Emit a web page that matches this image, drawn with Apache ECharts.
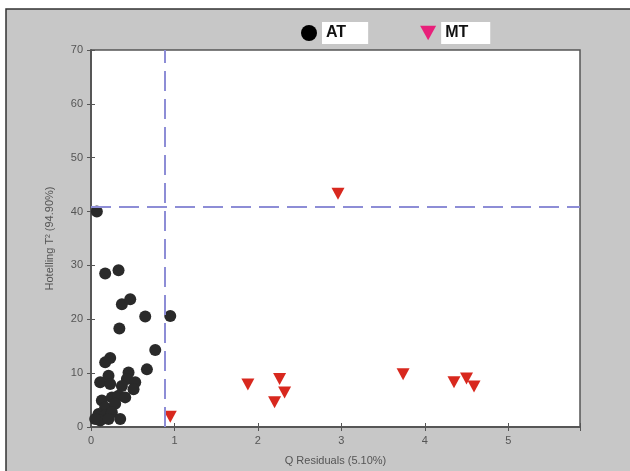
<!DOCTYPE html>
<html>
<head>
<meta charset="utf-8">
<script src="https://cdn.jsdelivr.net/npm/echarts@6/dist/echarts.min.js"></script>
<style>
  html, body { margin: 0; padding: 0; background: #fff; }
  #chart { width: 630px; height: 471px; }
</style>
</head>
<body>
<div id="chart"></div>
<script>
// AT 样本 (Q residual, Hotelling T2)
var atQ = [0.07, 0.17, 0.33, 0.37, 0.47, 0.34, 0.65, 0.95, 0.77, 0.67,
  0.23, 0.17, 0.45, 0.21, 0.11, 0.43, 0.53, 0.37, 0.51, 0.23,
  0.13, 0.25, 0.33, 0.41, 0.17, 0.29, 0.09, 0.17, 0.25, 0.11,
  0.35, 0.21, 0.05];
var atT2 = [40.0, 28.5, 29.1, 22.8, 23.7, 18.3, 20.5, 20.6, 14.3, 10.7,
  12.8, 12.0, 10.1, 9.5, 8.3, 8.9, 8.3, 7.6, 7.0, 8.0,
  4.9, 5.5, 5.8, 5.5, 3.6, 4.3, 2.4, 2.1, 2.7, 1.2,
  1.5, 1.5, 1.5];
// MT 样本
var mtQ = [2.96, 0.95, 1.88, 2.2, 2.26, 2.32, 3.74, 4.35, 4.5, 4.59];
var mtT2 = [43.3, 1.9, 7.9, 4.6, 8.9, 6.4, 9.8, 8.3, 9.0, 7.5];
// 控制限
var qLimit = 0.875;
var t2Limit = 40.9;
var xTicks = [0, 1, 2, 3, 4, 5];
var yTicks = [0, 10, 20, 30, 40, 50, 60, 70];

var triDown = 'path://M0,0 L10,0 L5,9 Z';

function pairs(xs, ys) {
  return xs.map(function (x, i) { return [x, ys[i]]; });
}

var chart = echarts.init(document.getElementById('chart'), null, { renderer: 'canvas' });

var axisCommon = {
  axisLine: { lineStyle: { color: '#555', width: 1.5 } },
  axisTick: { inside: true, length: 4, lineStyle: { color: '#555' } },
  splitLine: { show: false },
  axisLabel: { color: '#555', fontSize: 11, fontFamily: 'Liberation Sans' }
};

var option = {
  animation: false,
  backgroundColor: '#fff',
  graphic: [{
    type: 'rect',
    z: -10,
    shape: { x: 6, y: 9, width: 640, height: 480 },
    style: { fill: '#c7c7c7', stroke: '#333', lineWidth: 1.5 }
  }],
  grid: {
    left: 91, right: 50, top: 50, bottom: 43,
    show: true,
    backgroundColor: '#fff',
    borderColor: '#555',
    borderWidth: 1.5
  },
  legend: {
    top: 17,
    left: 296,
    itemGap: 52,
    itemWidth: 16,
    itemHeight: 16,
    textStyle: {
      color: '#111',
      fontSize: 16,
      fontWeight: 'bold',
      fontFamily: 'Liberation Sans',
      backgroundColor: '#fff',
      padding: [3, 22, 3, 4]
    },
    data: [
      { name: 'AT', icon: 'circle', itemStyle: { color: '#000' } },
      { name: 'MT', icon: triDown, itemStyle: { color: '#e8207a' } }
    ]
  },
  xAxis: [
    Object.assign({}, axisCommon, {
      type: 'value',
      min: 0, max: 5.86, interval: 1,
      name: 'Q Residuals (5.10%)',
      nameLocation: 'middle',
      nameGap: 28,
      nameTextStyle: { color: '#555', fontSize: 11, fontFamily: 'Liberation Sans' },
      axisLabel: Object.assign({}, axisCommon.axisLabel, {
        formatter: function (v) { return xTicks.indexOf(v) >= 0 ? String(v) : ''; }
      })
    }),
    Object.assign({}, axisCommon, {
      type: 'value', position: 'top',
      min: 0, max: 5.86, interval: 1,
      axisLabel: { show: false }
    })
  ],
  yAxis: [
    Object.assign({}, axisCommon, {
      type: 'value',
      min: 0, max: 70, interval: 10,
      name: 'Hotelling T\u00b2 (94.90%)',
      nameLocation: 'middle',
      nameGap: 36,
      nameTextStyle: { color: '#555', fontSize: 11, fontFamily: 'Liberation Sans' },
      axisLabel: Object.assign({}, axisCommon.axisLabel, {
        formatter: function (v) { return yTicks.indexOf(v) >= 0 ? String(v) : ''; }
      })
    }),
    Object.assign({}, axisCommon, {
      type: 'value', position: 'right',
      min: 0, max: 70, interval: 10,
      axisLabel: { show: false }
    })
  ],
  series: [
    {
      name: 'AT',
      type: 'scatter',
      symbol: 'circle',
      symbolSize: 12,
      itemStyle: { color: '#2a2a2a', opacity: 1 },
      data: pairs(atQ, atT2),
      markLine: {
        silent: true,
        symbol: 'none',
        label: { show: false },
        lineStyle: { color: '#8d8dd6', width: 2, type: [20, 8] },
        data: [{ xAxis: qLimit }, { yAxis: t2Limit }]
      }
    },
    {
      name: 'MT',
      type: 'scatter',
      symbol: triDown,
      symbolSize: [13, 12],
      itemStyle: { color: '#d8281e', opacity: 1 },
      data: pairs(mtQ, mtT2)
    }
  ]
};

chart.setOption(option);
</script>
</body>
</html>
